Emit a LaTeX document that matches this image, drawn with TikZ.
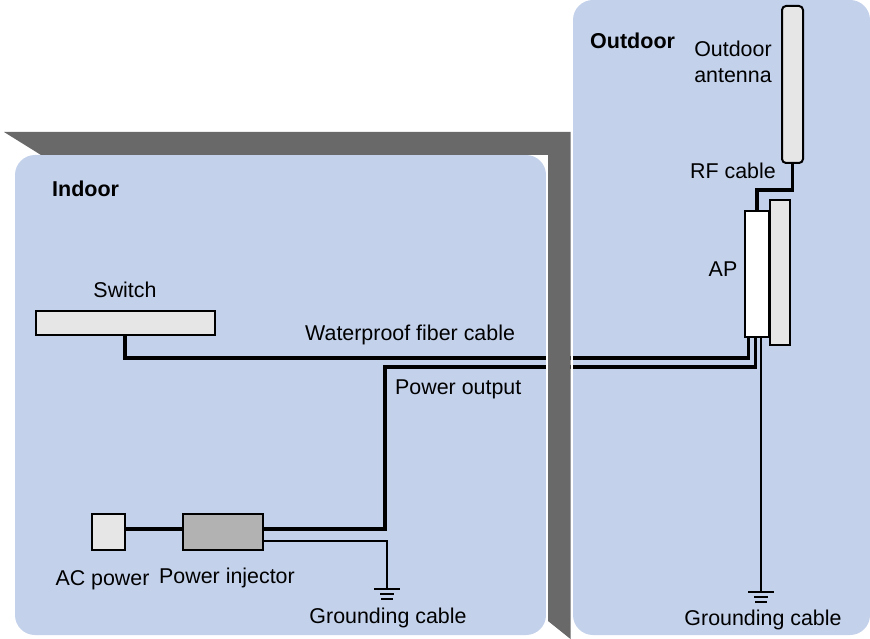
\documentclass[tikz,border=0pt]{standalone}
\usepackage{fontspec}
\setmainfont{Liberation Sans}
\definecolor{panel}{HTML}{C3D1EB}
\definecolor{wallc}{HTML}{696969}
\definecolor{lightbox}{HTML}{E6E6E6}
\definecolor{midbox}{HTML}{B2B2B2}
\tikzset{
  panelbox/.style={fill=panel,draw=none,rounded corners=20pt},
  device/.style={draw=black,line width=2pt,inner sep=0pt,outer sep=0pt,anchor=center},
  label/.style={inner sep=0pt,font=\fontsize{21.4}{25}\selectfont,text=black},
  heading/.style={inner sep=0pt,font=\fontsize{21.5}{25}\selectfont\bfseries,text=black},
  heavywire/.style={draw=black,line width=3.5pt},
  lightwire/.style={draw=black,line width=2pt},
  earth/.style={draw=black,line width=2pt},
}
\begin{document}
\begin{tikzpicture}[x=1pt,y=-1pt]
\useasboundingbox (0,0) rectangle (870,639);
\fill[white] (0,0) rectangle (870,639);
% panels
\fill[panelbox] (15,155) rectangle (546,635);
\fill[panelbox] (573,0) rectangle (870,635);
% devices
\node[device,fill=lightbox,minimum width=179pt,minimum height=24pt] (switch) at (125,322.5) {};
\node[device,fill=lightbox,minimum width=33pt,minimum height=36pt] (acpower) at (108.5,532) {};
\node[device,fill=midbox,minimum width=80pt,minimum height=36pt] (injector) at (223,532) {};
\node[device,fill=lightbox,minimum width=20pt,minimum height=145pt] (plate) at (780,272.5) {};
\node[device,fill=white,minimum width=24pt,minimum height=125pt] (ap) at (757,274) {};
\node[device,fill=lightbox,minimum width=21pt,minimum height=157pt,rounded corners=4pt] (antenna) at (792.5,84.5) {};
% junction points
\coordinate (fiberup) at (748.5,336);
\coordinate (powerup) at (755.5,336);
\coordinate (earthup) at (761,336);
\coordinate (rfturn) at (757,190);
\coordinate (outturn) at (385,367);
\coordinate (injpower) at (264,529);
\coordinate (injearth) at (263,540.5);
\coordinate (earthA) at (387,589);
\coordinate (earthB) at (761,592);
% wires
\draw[heavywire] (switch.south) |- (748.5,358) -- (fiberup);
\draw[heavywire] (injpower) -| (outturn) -- (755.5,367) -- (powerup);
\draw[heavywire] (acpower.east |- injpower) -- (injector.west |- injpower);
\draw[heavywire] (antenna.south) |- (rfturn) -- (rfturn |- ap.north);
\draw[lightwire] (injearth) -| (earthA);
\draw[lightwire] (earthup) -- (earthB);
% earth symbols
\draw[earth] ([xshift=-13pt]earthA) -- ([xshift=13pt]earthA);
\draw[earth] ([xshift=-7pt,yshift=-5pt]earthA) -- ([xshift=7pt,yshift=-5pt]earthA);
\draw[earth] ([xshift=-6pt,yshift=-10pt]earthA) -- ([xshift=6pt,yshift=-10pt]earthA);
\draw[earth] ([xshift=-13pt]earthB) -- ([xshift=13pt]earthB);
\draw[earth] ([xshift=-7pt,yshift=-5pt]earthB) -- ([xshift=7pt,yshift=-5pt]earthB);
\draw[earth] ([xshift=-6pt,yshift=-10pt]earthB) -- ([xshift=6pt,yshift=-10pt]earthB);
% wall
\fill[white] (546,155) rectangle (548,635);
\fill[white] (571,0) rectangle (573,639);
\fill[wallc] (4,132) -- (570.5,132) -- (570.5,639) -- (548,621) -- (548,155) -- (41,155) -- cycle;
% labels
\node[heading,anchor=base west] (indoor) at (52,197) {Indoor};
\node[heading,anchor=base west] (outdoor) at (590,49) {Outdoor};
\node[label,anchor=base] (outant1) at (733,57) {Outdoor};
\node[label,anchor=base] (outant2) at (733,83) {antenna};
\node[label,anchor=base] (rflabel) at (733,179) {RF cable};
\node[label,anchor=base] (aplabel) at (723,276) {AP};
\node[label,anchor=base] (swlabel) at (125,297) {Switch};
\node[label,anchor=base west] (fiberlabel) at (305,340) {Waterproof fiber cable};
\node[label,anchor=base west] (powerlabel) at (395,394) {Power output};
\node[label,anchor=base] (aclabel) at (102.5,585) {AC power};
\node[label,anchor=base] (injlabel) at (227,583) {Power injector};
\node[label,anchor=base] (gndA) at (388,623) {Grounding cable};
\node[label,anchor=base] (gndB) at (763,625) {Grounding cable};
\end{tikzpicture}
\end{document}
